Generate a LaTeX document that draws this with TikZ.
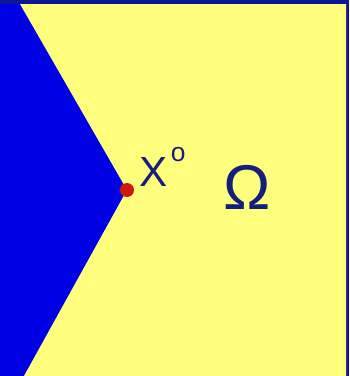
\documentclass[tikz,border=0pt]{standalone}
\usepackage{fontspec}
\setmainfont{Liberation Sans}
\usepackage{xcolor}
\usepackage{tikz}
\usetikzlibrary{positioning, calc}

\definecolor{wedgeblue}{RGB}{0,0,228}
\definecolor{frameblue}{RGB}{14,24,150}
\definecolor{fieldyellow}{RGB}{255,255,125}
\definecolor{textnavy}{RGB}{22,30,125}
\definecolor{dotred}{RGB}{205,25,20}

\tikzset{
  pointdot/.style={circle, fill=dotred, inner sep=0pt, minimum size=0.28cm},
  domainlabel/.style={text=textnavy, inner sep=0pt}
}

\begin{document}
\begin{tikzpicture}[x=0.02cm, y=-0.02cm]
        \useasboundingbox (0,0) rectangle (349,376);

        % Background and frame
        \fill[wedgeblue] (0,0) rectangle (349,376);
        \fill[frameblue] (0,0) rectangle (349,4);
        \fill[frameblue] (346,0) rectangle (349,376);

        % Domain with the corner
        \fill[fieldyellow] (20,4) -- (346,4) -- (346,376) -- (24,376) -- (127,190) -- cycle;

        % Corner point
        \node[pointdot] (x0) at (127,190) {};

        % Labels
        \node[domainlabel, anchor=south west] (xlab) at (139,187) {\fontsize{24}{24}\selectfont X\kern2pt\raisebox{0.6em}{\fontsize{15}{15}\selectfont o}};
        \node[domainlabel] (omega) at (247,187) {\fontsize{36}{36}\selectfont Ω};
      \end{tikzpicture}
\end{document}
